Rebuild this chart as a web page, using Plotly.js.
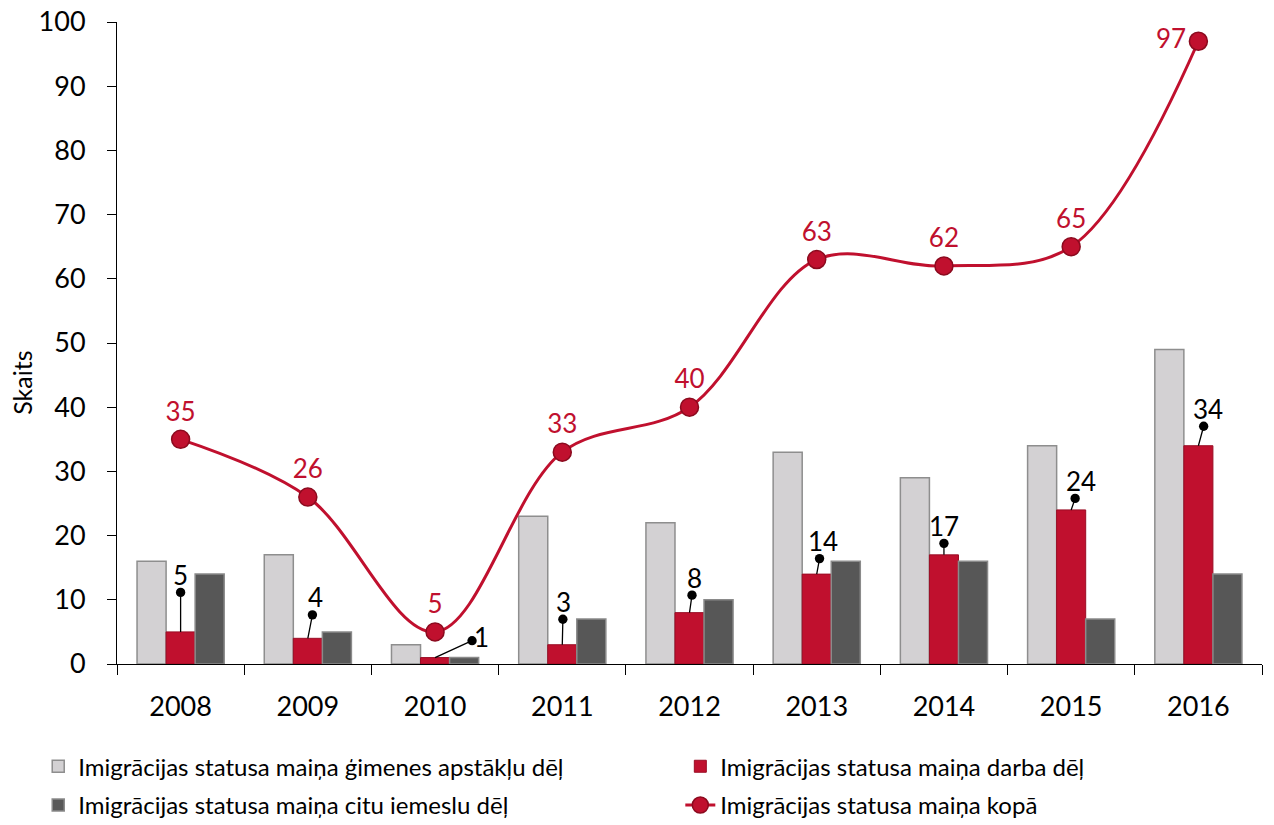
<!DOCTYPE html>
<html>
<head>
<meta charset="utf-8">
<script src="https://cdn.plot.ly/plotly-3.0.1.min.js"></script>
<style>
  html, body { margin: 0; padding: 0; background: #fff; }
  #plotlyDiv { width: 1274px; height: 825px; }
</style>
</head>
<body>
<div id="plotlyDiv"></div>
<script>
var years = ['2008', '2009', '2010', '2011', '2012', '2013', '2014', '2015', '2016'];
var family = [16, 17, 3, 23, 22, 33, 29, 34, 49];
var work = [5, 4, 1, 3, 8, 14, 17, 24, 34];
var other = [14, 5, 1, 7, 10, 16, 16, 7, 14];
var total = [35, 26, 5, 33, 40, 63, 62, 65, 97];

var names = [
    'Imigrācijas statusa maiņa ģimenes apstākļu dēļ',
    'Imigrācijas statusa maiņa darba dēļ',
    'Imigrācijas statusa maiņa citu iemeslu dēļ',
    'Imigrācijas statusa maiņa kopā'
];

// label offsets for the work bar labels (pixels)
var labelDx = [0, 8, 46, 1, 5, 6, 0, 10, 10];
var labelDy = [-57, -41, -21, -43, -35, -33, -29, -29, -37];

var red = '#C0102E';
var fnt = 'Lato, sans-serif';

// one small legend per trace, placed as the 2x2 block of the original
var trace1 = {
    type: 'bar', name: names[0], x: years, y: family, legend: 'legend',
    marker: {color: '#D3D1D3', line: {color: '#8E8E8E', width: 1.5}},
    hoverinfo: 'y'
};
var trace2 = {
    type: 'bar', name: names[1], x: years, y: work, legend: 'legend2',
    marker: {color: red, line: {color: '#9A0C24', width: 1}},
    hoverinfo: 'y'
};
var trace3 = {
    type: 'bar', name: names[2], x: years, y: other, legend: 'legend3',
    marker: {color: '#575757', line: {color: '#8A8A8A', width: 1.5}},
    hoverinfo: 'y'
};
var pos = total.map(function (v, i) { return i === total.length - 1 ? 'middle left' : 'top center'; });
var trace4 = {
    type: 'scatter', mode: 'lines+markers+text', name: names[3], x: years, y: total, legend: 'legend4',
    line: {color: red, width: 3, shape: 'spline', smoothing: 1},
    marker: {size: 18, color: red, line: {color: '#8B0A1E', width: 1.5}},
    text: total.map(String), textposition: pos,
    textfont: {color: red, size: 26, family: fnt}
};

// category index as x so the annotation sits on the work bar
var annotations = work.map(function (v, i) {
    return {
        x: i, y: v, xref: 'x', yref: 'y',
        text: String(v), showarrow: true,
        ax: labelDx[i], ay: labelDy[i],
        arrowside: 'start', startarrowhead: 6, startarrowsize: 1.8,
        arrowwidth: 1.3, arrowcolor: '#000',
        font: {size: 26, color: '#000', family: fnt}
    };
});

// y axis title, placed a bit below the middle as in the original
annotations.push({
    text: 'Skaits', textangle: -90, showarrow: false,
    xref: 'paper', yref: 'paper', x: -0.083, y: 0.438,
    xanchor: 'center', yanchor: 'middle',
    font: {size: 25, color: '#000', family: fnt}
});

function legendAt(x, y) {
    return {
        orientation: 'h', xref: 'container', yref: 'container',
        x: x, xanchor: 'left', y: y, yanchor: 'top',
        font: {size: 24, color: '#000'},
        itemwidth: 30
    };
}

var layout = {
    width: 1274, height: 825,
    margin: {l: 117, r: 12, t: 22, b: 161},
    paper_bgcolor: '#fff', plot_bgcolor: '#fff',
    font: {family: fnt, size: 22, color: '#000'},
    barmode: 'group', bargap: 0.315, bargroupgap: 0,
    showlegend: true,
    legend: legendAt(0.03, 0.098),
    legend2: legendAt(0.534, 0.098),
    legend3: legendAt(0.03, 0.051),
    legend4: legendAt(0.534, 0.051),
    xaxis: {
        type: 'category', range: [-0.5, 8.5], autorange: false,
        showline: true, linecolor: '#000', linewidth: 1,
        ticks: 'outside', tickson: 'boundaries', ticklen: 10, tickcolor: '#000',
        tickfont: {size: 27}, tickangle: 0, ticklabelstandoff: 19,
        showgrid: false, zeroline: false
    },
    yaxis: {
        range: [0, 100], autorange: false, dtick: 10, showgrid: false, zeroline: false,
        showline: true, linecolor: '#000', linewidth: 1,
        ticks: 'outside', ticklen: 9, tickcolor: '#000',
        tickfont: {size: 27}, ticklabelstandoff: 16
    },
    annotations: annotations
};

Plotly.newPlot('plotlyDiv', [trace1, trace2, trace3, trace4], layout, {displayModeBar: false});
</script>
</body>
</html>
